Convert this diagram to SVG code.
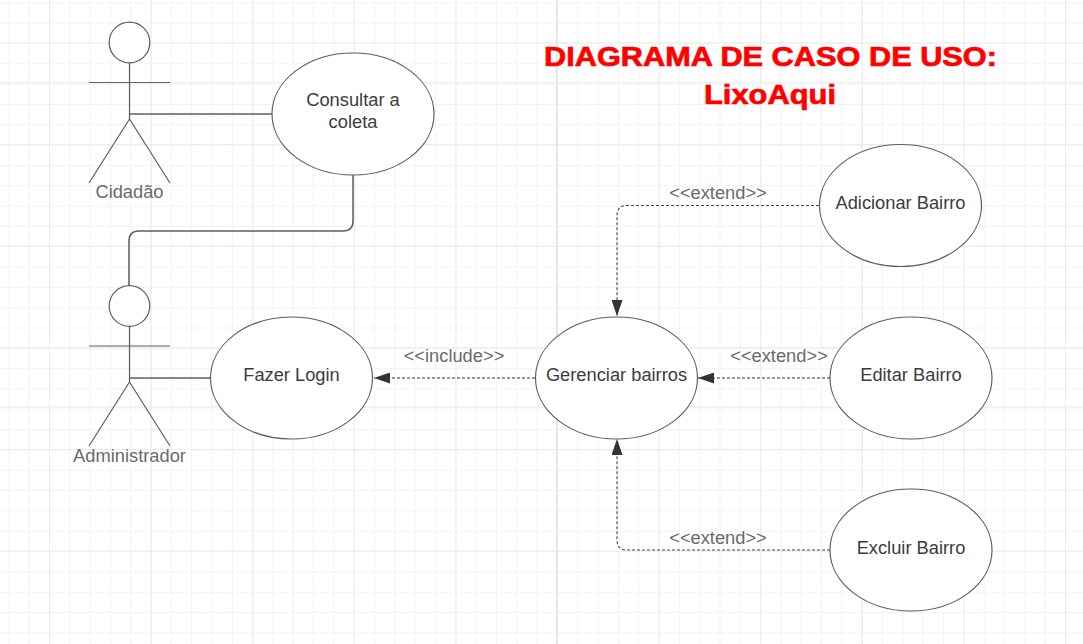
<svg xmlns="http://www.w3.org/2000/svg" width="1083" height="644" viewBox="0 0 1083 644">
<defs>
<pattern id="minor" x="8.3" y="2.4" width="20.32" height="20.32" patternUnits="userSpaceOnUse"><path d="M0.5 0V20.32M0 0.5H20.32" fill="none" stroke="#f3f3f3" stroke-width="1"/></pattern>
<pattern id="major" x="49" y="42.5" width="101.6" height="101.6" patternUnits="userSpaceOnUse"><path d="M0.5 0V101.6M0 0.5H101.6" fill="none" stroke="#ebebeb" stroke-width="1"/></pattern>
<marker id="arrow" markerUnits="userSpaceOnUse" markerWidth="17" markerHeight="11" refX="16" refY="5.500" orient="auto"><path d="M0 0L16 5.500L0 11Z" fill="#333"/></marker>
</defs>
<style>
.s{fill:none;stroke:#5e5e5e;stroke-width:1.2}
.e{fill:#fff;stroke:#5e5e5e;stroke-width:1.2}
.c{fill:none;stroke:#5e5e5e;stroke-width:1.5}
.d{fill:none;stroke:#444;stroke-width:1.1;stroke-dasharray:3 2;marker-end:url(#arrow)}
.g{stroke:#777;stroke-width:1.5}
text{font-family:"Liberation Sans",Arial,sans-serif;text-anchor:middle}
.t{font-size:18.3px;fill:#3c3c3c}
.l{font-size:18.3px;fill:#6a6a6a}
.h{font-size:27px;font-weight:bold;fill:#f00;stroke:#f00;stroke-width:.7}
</style>
<rect width="1083" height="644" fill="#fff"/>
<rect width="1083" height="644" fill="url(#minor)"/>
<rect width="1083" height="644" fill="url(#major)"/>
<path d="M556.5 0V644" stroke="#e2e2e2" fill="none"/>
<path d="M0 82.7H1083M0 407H1083" stroke="#f0f0f0" stroke-width="1.5" fill="none"/>
<g id="connectors">
<path class="c" d="M129 114H272"/>
<path class="c" d="M353 175V221Q353 231 343 231H139Q129 231 129 241V287"/>
<path class="c" d="M129 378H211"/>
<path class="d g" d="M535 378H374"/>
<path class="d" d="M819 205.500H627Q617 205.500 617 215.500V316"/>
<path class="d g" d="M830 378H698"/>
<path class="d" d="M830 550H627Q617 550 617 540V439"/>
</g>
<g id="labels">
<text class="l" x="718" y="198.500">&lt;&lt;extend&gt;&gt;</text>
<text class="l" x="454" y="361.500">&lt;&lt;include&gt;&gt;</text>
<text class="l" x="779" y="361.500">&lt;&lt;extend&gt;&gt;</text>
<text class="l" x="718" y="543.500">&lt;&lt;extend&gt;&gt;</text>
</g>
<g id="title">
<text class="h" x="770.500" y="66" textLength="453" lengthAdjust="spacingAndGlyphs">DIAGRAMA DE CASO DE USO:</text>
<text class="h" x="770" y="104" textLength="132" lengthAdjust="spacingAndGlyphs">LixoAqui</text>
</g>
<g id="actor-cidadao">
<circle class="e" cx="129.500" cy="42.500" r="20.300"/>
<path class="s" d="M129.500 63V119M89 82.500H170M129.500 119L89 183M129.500 119L170 183"/>
<text class="l" x="129.500" y="198">Cidadão</text>
</g>
<g id="actor-administrador">
<circle class="e" cx="129.500" cy="306" r="20.300"/>
<path class="s" d="M129.500 326V382M89 346H170M129.500 382L89 446M129.500 382L170 446"/>
<text class="l" x="129.500" y="461.500">Administrador</text>
</g>
<g id="uc-consultar">
<ellipse class="e" cx="353" cy="114" rx="81" ry="61"/>
<text class="t" x="353" y="106">Consultar a</text>
<text class="t" x="353" y="128">coleta</text>
</g>
<g id="uc-login">
<ellipse class="e" cx="291.500" cy="378" rx="81" ry="61"/>
<text class="t" x="291.500" y="381">Fazer Login</text>
</g>
<g id="uc-gerenciar">
<ellipse class="e" cx="616.500" cy="378" rx="81" ry="61"/>
<text class="t" x="616.500" y="381">Gerenciar bairros</text>
</g>
<g id="uc-adicionar">
<ellipse class="e" cx="900.500" cy="205.500" rx="81" ry="61"/>
<text class="t" x="900.500" y="208.500">Adicionar Bairro</text>
</g>
<g id="uc-editar">
<ellipse class="e" cx="911" cy="378" rx="81" ry="61"/>
<text class="t" x="911" y="381">Editar Bairro</text>
</g>
<g id="uc-excluir">
<ellipse class="e" cx="911" cy="550" rx="81" ry="61"/>
<text class="t" x="911" y="553.500">Excluir Bairro</text>
</g>
</svg>
